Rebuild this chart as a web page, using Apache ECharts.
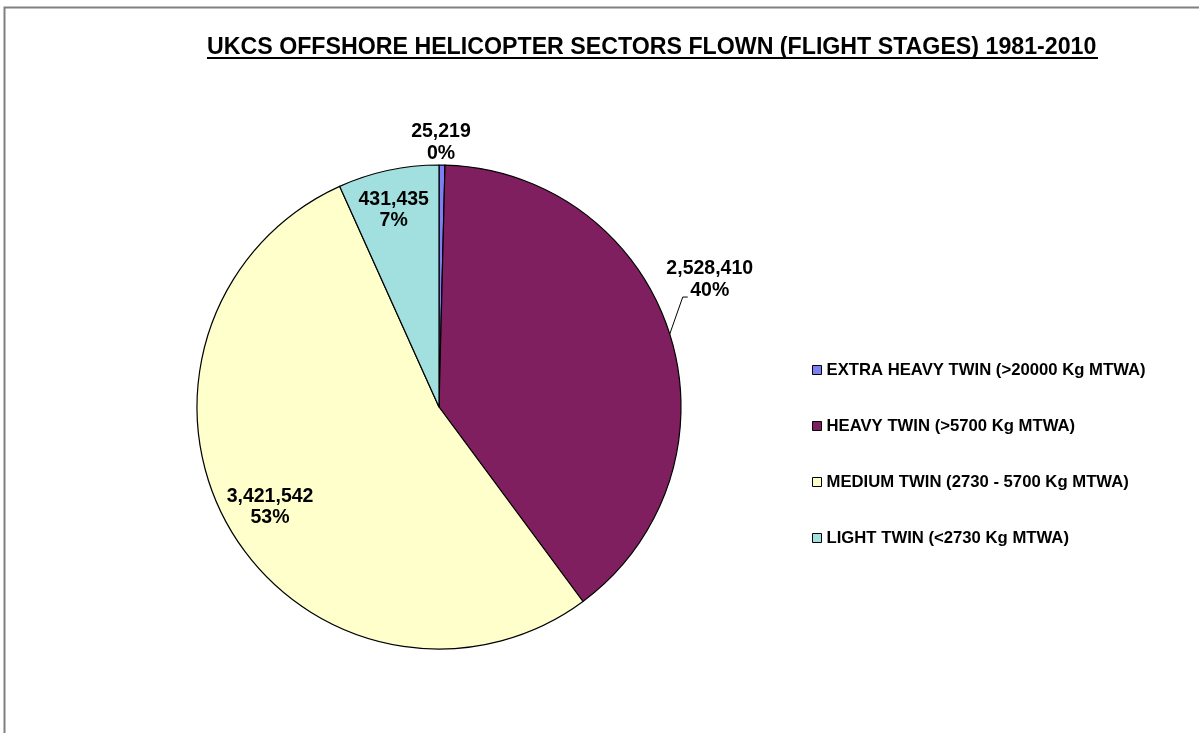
<!DOCTYPE html>
<html>
<head>
<meta charset="utf-8">
<script src="https://cdn.jsdelivr.net/npm/echarts@6/dist/echarts.min.js"></script>
<style>
html,body{margin:0;padding:0;background:#fff;}
#chart{width:1199px;height:733px;}
</style>
</head>
<body>
<div id="chart"></div>
<script>
const titleText = 'UKCS OFFSHORE HELICOPTER SECTORS FLOWN (FLIGHT STAGES) 1981-2010';
const categories = [
  'EXTRA HEAVY TWIN (>20000 Kg MTWA)',
  'HEAVY TWIN (>5700 Kg MTWA)',
  'MEDIUM TWIN (2730 - 5700 Kg MTWA)',
  'LIGHT TWIN (<2730 Kg MTWA)'
];
const sectorsFlown = [25219, 2528410, 3421542, 431435];
const sliceColors = ['#7F7FF5', '#7F1F5F', '#FFFFCC', '#A2E0E0'];
const outsideLabelIdx = [0, 1];
const insideLabelIdx = [2, 3];

const chart = echarts.init(document.getElementById('chart'), null, {renderer: 'canvas'});

const CX = 439, CY = 407, R = 242;
const labelFont = {fontFamily: 'Liberation Sans, Arial, sans-serif', fontWeight: 'bold', fontSize: 19.5, lineHeight: 22, color: '#000'};

function fmt(p) {
  return p.value.toLocaleString('en-US') + '\n' + p.percent + '%';
}

const mainData = categories.map((name, i) => ({
  name: name,
  value: sectorsFlown[i],
  itemStyle: {color: sliceColors[i]},
  label: {show: outsideLabelIdx.indexOf(i) >= 0},
  labelLine: {show: i === 1}
}));
const labelData = categories.map((name, i) => ({
  name: name,
  value: sectorsFlown[i],
  label: {show: insideLabelIdx.indexOf(i) >= 0}
}));

chart.setOption({
  animation: false,
  backgroundColor: '#fff',
  title: {
    text: titleText,
    left: 207,
    top: 36,
    padding: 0,
    textStyle: {fontFamily: 'Liberation Sans, Arial, sans-serif', fontWeight: 'bold', fontSize: 23.2, color: '#000'}
  },
  graphic: [
    {type: 'rect', shape: {x: 4.5, y: 7.5, width: 1400, height: 900}, style: {fill: 'none', stroke: '#808080', lineWidth: 2}, silent: true},
    {type: 'rect', shape: {x: 207, y: 57, width: 891, height: 2}, style: {fill: '#000'}, silent: true}
  ],
  legend: {
    orient: 'vertical',
    left: 807,
    top: 355,
    itemWidth: 9,
    itemHeight: 9,
    itemGap: 36,
    icon: 'rect',
    data: categories,
    itemStyle: {borderColor: '#000', borderWidth: 1},
    textStyle: {fontFamily: 'Liberation Sans, Arial, sans-serif', fontWeight: 'bold', fontSize: 16.7, lineHeight: 20, color: '#000'}
  },
  series: [
    {
      type: 'pie',
      center: [CX, CY],
      radius: R,
      startAngle: 90,
      clockwise: true,
      percentPrecision: 0,
      avoidLabelOverlap: false,
      itemStyle: {borderColor: '#000', borderWidth: 1.2},
      emphasis: {disabled: true},
      label: Object.assign({position: 'outside', formatter: fmt}, labelFont),
      labelLine: {length: 15, length2: 6, lineStyle: {color: '#000', width: 1}},
      labelLayout: function (p) {
        if (p.dataIndex === 0) {
          return {x: p.rect.x + p.rect.width / 2 - 1, y: p.rect.y, align: 'center', verticalAlign: 'bottom'};
        }
        if (p.dataIndex === 1 && p.labelLinePoints) {
          const a = p.labelLinePoints[0];
          const b = [a[0] + 13, a[1] - 37];
          const c = [b[0] + 5, b[1]];
          return {x: c[0] + 22, y: c[1] - 17, align: 'center', verticalAlign: 'middle', labelLinePoints: [a, b, c]};
        }
        return {};
      },
      data: mainData
    },
    {
      type: 'pie',
      center: [CX, CY],
      radius: R * 2 * 0.84,
      startAngle: 90,
      clockwise: true,
      percentPrecision: 0,
      silent: true,
      z: 3,
      itemStyle: {color: 'rgba(0,0,0,0)', borderWidth: 0},
      emphasis: {disabled: true},
      label: Object.assign({position: 'inside', formatter: fmt}, labelFont, {lineHeight: 21}),
      labelLine: {show: false},
      labelLayout: function (p) {
        if (p.dataIndex === 2) return {dx: 9, dy: -4};
        if (p.dataIndex === 3) return {dx: -2, dy: 5};
        return {};
      },
      data: labelData
    }
  ]
});
</script>
</body>
</html>
